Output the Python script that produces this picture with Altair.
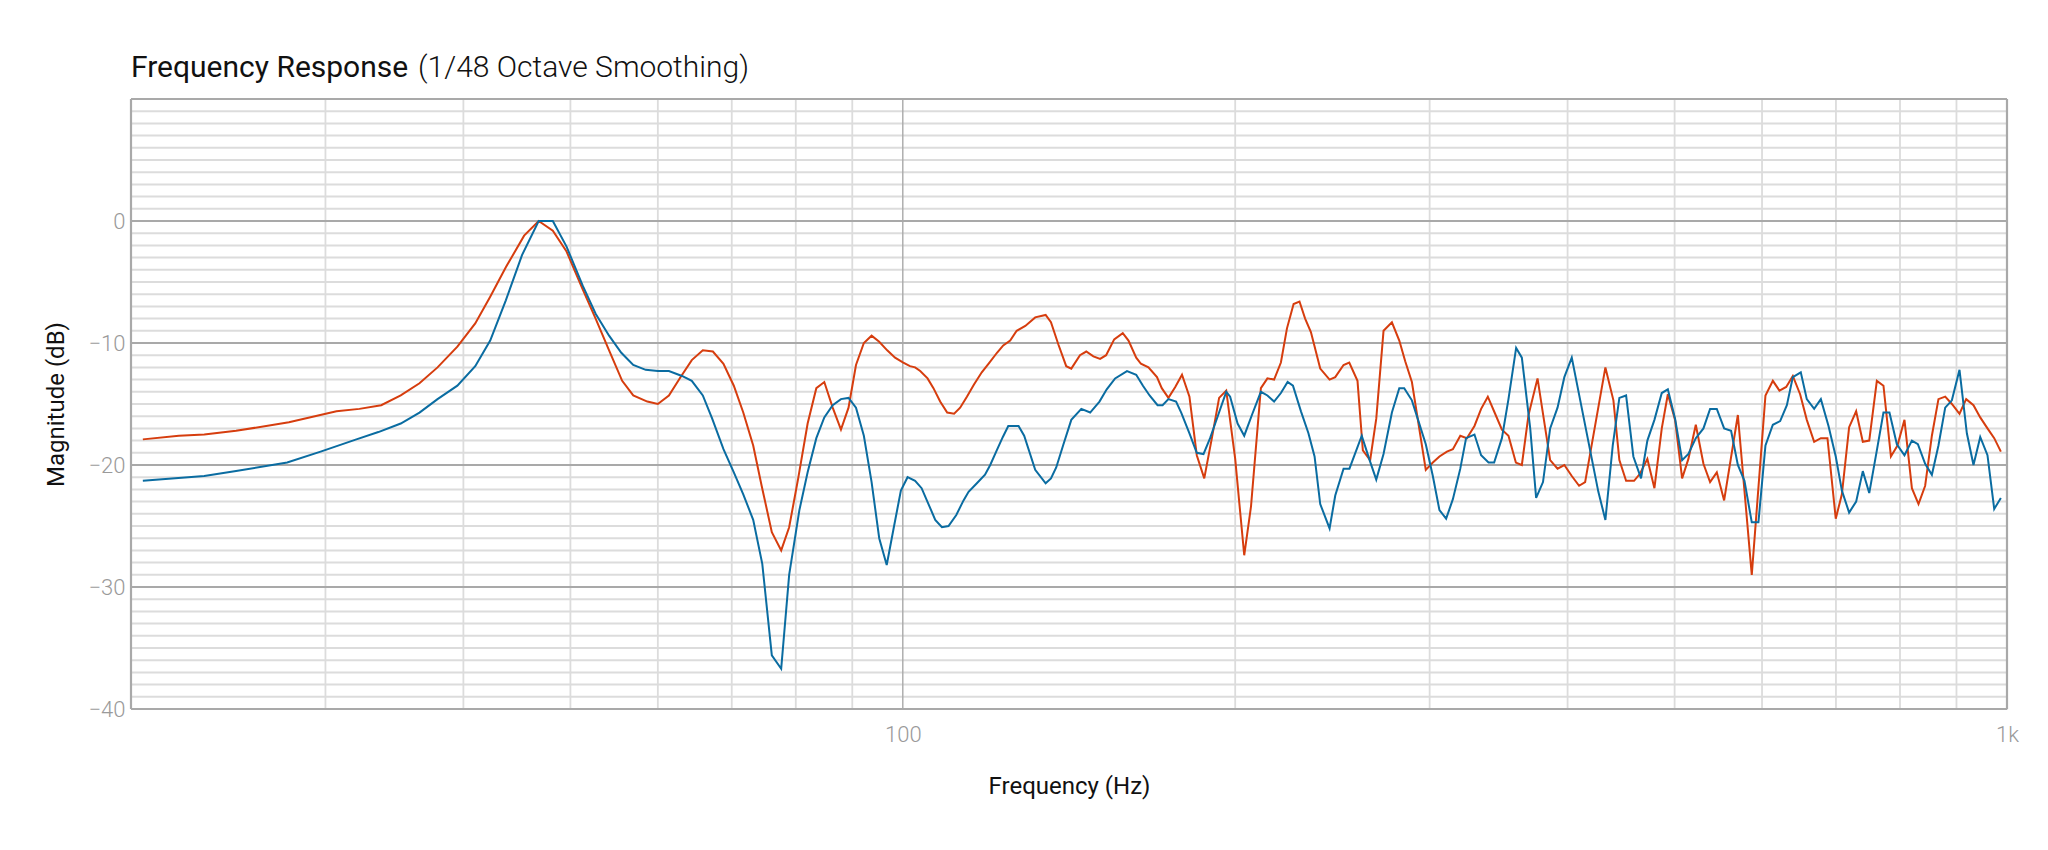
import altair as alt
import pandas as pd

# ---- data (frequency in Hz, magnitude in dB) ----
red_response = [
    (20.5, -17.9), (22.1, -17.6), (23.3, -17.5), (24.9, -17.2), (27.8, -16.5),
    (30.7, -15.6), (32.2, -15.4), (33.7, -15.1), (35.1, -14.3), (36.5, -13.3),
    (37.9, -12.0), (39.5, -10.3), (41.0, -8.4), (42.3, -6.2), (43.7, -3.8),
    (45.4, -1.2), (46.8, 0.0), (48.2, -0.8), (49.6, -2.5), (51.3, -5.6),
    (52.7, -8.0), (54.2, -10.6), (55.7, -13.1), (57.0, -14.3), (58.7, -14.8),
    (60.0, -15.0), (61.4, -14.3), (62.9, -12.8), (64.4, -11.4), (65.9, -10.6),
    (67.3, -10.7), (68.8, -11.7), (70.3, -13.5), (71.7, -15.7), (73.2, -18.4),
    (74.5, -21.7), (76.1, -25.5), (77.6, -27.0), (78.9, -25.1), (80.4, -21.1),
    (82.0, -16.6), (83.5, -13.7), (84.9, -13.2), (86.4, -15.3), (87.9, -17.1),
    (89.3, -15.3), (90.7, -11.8), (92.2, -10.0), (93.7, -9.4), (95.2, -9.9),
    (96.8, -10.6), (98.4, -11.2), (100.1, -11.6), (101.5, -11.9), (102.6, -12.0),
    (103.7, -12.3), (105.3, -12.9), (106.6, -13.7), (108.1, -14.8), (109.7, -15.7),
    (111.3, -15.8), (112.7, -15.3), (114.3, -14.4), (116.0, -13.4), (117.9, -12.4),
    (119.8, -11.6), (121.7, -10.8), (123.3, -10.2), (125.1, -9.8), (126.8, -9.0),
    (129.1, -8.6), (131.8, -7.9), (134.7, -7.7), (136.2, -8.3), (138.3, -10.1),
    (140.6, -11.9), (142.1, -12.1), (144.7, -11.0), (146.6, -10.7), (148.8, -11.1),
    (150.9, -11.3), (152.8, -11.0), (155.4, -9.7), (158.2, -9.2), (160.1, -9.8),
    (162.7, -11.2), (164.3, -11.7), (166.9, -12.0), (169.9, -12.8), (171.6, -13.7),
    (174.0, -14.5), (176.5, -13.6), (179.0, -12.6), (181.8, -14.4), (184.6, -19.2),
    (187.5, -21.1), (190.5, -17.8), (193.4, -14.5), (196.3, -13.9), (200.0, -19.5),
    (203.8, -27.4), (206.7, -23.4), (211.0, -13.7), (213.9, -12.9), (216.9, -13.0),
    (220.0, -11.6), (222.8, -8.8), (225.9, -6.8), (228.7, -6.6), (231.4, -8.0),
    (234.2, -9.1), (238.8, -12.1), (243.5, -13.0), (246.4, -12.8), (250.7, -11.8),
    (253.7, -11.6), (258.1, -13.1), (261.0, -18.8), (265.0, -19.6), (268.4, -16.2),
    (272.5, -9.0), (277.3, -8.3), (281.6, -9.8), (285.1, -11.5), (289.1, -13.2),
    (297.6, -20.4), (302.0, -19.8), (306.2, -19.3), (311.0, -18.9), (314.9, -18.7),
    (319.8, -17.6), (324.2, -17.8), (329.4, -16.8), (334.0, -15.4), (338.7, -14.4),
    (343.9, -15.8), (348.8, -17.1), (353.6, -17.6), (359.1, -19.8), (363.6, -20.0),
    (368.7, -15.9), (375.7, -12.9), (385.7, -19.6), (391.7, -20.3), (397.3, -20.0),
    (403.5, -20.9), (409.7, -21.7), (414.9, -21.4), (432.8, -12.0), (440.1, -14.7),
    (445.6, -19.6), (451.9, -21.3), (459.5, -21.3), (465.3, -20.7), (472.4, -19.5),
    (479.4, -21.9), (486.8, -17.0), (493.0, -14.2), (500.5, -16.3), (507.9, -21.1),
    (514.6, -19.5), (522.6, -16.7), (531.0, -19.9), (538.4, -21.4), (546.0, -20.6),
    (554.4, -22.9), (570.5, -15.9), (587.3, -29.0), (604.3, -14.3), (613.7, -13.1),
    (622.2, -13.9), (631.0, -13.6), (639.8, -12.7), (649.6, -14.2), (658.7, -16.3),
    (668.9, -18.1), (678.3, -17.8), (687.7, -17.8), (699.7, -24.4), (708.7, -22.4),
    (719.5, -16.9), (730.1, -15.6), (740.3, -18.1), (750.3, -18.0), (762.3, -13.1),
    (772.9, -13.5), (785.0, -19.3), (795.8, -18.4), (807.5, -16.3), (820.1, -21.9),
    (831.5, -23.2), (843.1, -21.7), (855.0, -17.6), (866.8, -14.6), (879.1, -14.4),
    (891.4, -15.0), (905.7, -15.8), (918.4, -14.6), (932.5, -15.1), (945.7, -16.1),
    (960.1, -17.0), (973.7, -17.8), (987.3, -18.9),
]

blue_response = [
    (20.5, -21.3), (23.3, -20.9), (24.9, -20.5), (27.7, -19.8), (29.7, -18.9),
    (32.0, -17.9), (33.5, -17.3), (35.1, -16.6), (36.5, -15.7), (37.9, -14.6),
    (39.5, -13.5), (41.0, -11.9), (42.3, -9.8), (43.7, -6.5), (45.2, -2.8),
    (46.8, 0.0), (48.2, 0.0), (49.6, -2.1), (51.3, -5.3), (52.7, -7.6),
    (54.2, -9.4), (55.6, -10.8), (57.0, -11.8), (58.5, -12.2), (60.0, -12.3),
    (61.4, -12.3), (63.1, -12.7), (64.4, -13.1), (65.9, -14.3), (67.2, -16.2),
    (68.8, -18.7), (70.3, -20.6), (71.7, -22.4), (73.2, -24.5), (74.6, -28.1),
    (76.1, -35.6), (77.6, -36.7), (78.9, -29.0), (80.6, -23.7), (82.0, -20.6),
    (83.5, -17.8), (84.9, -16.1), (86.4, -15.1), (87.9, -14.6), (89.3, -14.5),
    (90.7, -15.3), (92.2, -17.6), (93.7, -21.4), (95.2, -26.0), (96.7, -28.2),
    (98.1, -25.2), (99.6, -22.1), (101.0, -21.0), (102.6, -21.3), (104.0, -21.9),
    (105.5, -23.2), (107.0, -24.5), (108.5, -25.1), (110.0, -25.0), (111.8, -24.1),
    (113.5, -22.9), (114.7, -22.2), (116.7, -21.5), (118.7, -20.8), (120.0, -20.0),
    (121.5, -18.9), (123.2, -17.7), (124.6, -16.8), (127.3, -16.8), (128.8, -17.6),
    (131.8, -20.4), (134.7, -21.5), (136.2, -21.1), (137.7, -20.2), (139.8, -18.3),
    (142.1, -16.3), (145.1, -15.4), (147.8, -15.7), (150.7, -14.8), (153.0, -13.8),
    (155.7, -12.9), (159.6, -12.3), (162.7, -12.6), (165.0, -13.5), (167.3, -14.3),
    (170.1, -15.1), (171.9, -15.1), (174.0, -14.6), (176.8, -14.8), (178.7, -15.7),
    (181.8, -17.4), (184.6, -19.0), (187.2, -19.1), (189.8, -17.8), (193.2, -15.8),
    (196.3, -14.0), (197.9, -14.4), (201.0, -16.6), (203.8, -17.6), (207.3, -15.8),
    (211.0, -14.0), (213.9, -14.3), (216.9, -14.8), (220.0, -14.1), (223.1, -13.2),
    (225.6, -13.5), (229.4, -15.6), (233.0, -17.4), (236.0, -19.3), (238.8, -23.2),
    (243.5, -25.2), (246.4, -22.5), (250.7, -20.3), (253.8, -20.3), (260.4, -17.6),
    (264.7, -19.6), (268.4, -21.2), (272.5, -19.1), (277.3, -15.7), (281.6, -13.7),
    (284.5, -13.7), (289.1, -14.7), (293.1, -16.4), (297.6, -18.3), (302.0, -20.9),
    (306.2, -23.7), (310.5, -24.4), (314.9, -22.8), (319.8, -20.3), (323.7, -17.8),
    (329.4, -17.5), (334.0, -19.2), (339.2, -19.8), (343.2, -19.8), (348.8, -17.8),
    (353.6, -14.6), (359.3, -10.4), (363.6, -11.2), (370.0, -17.0), (374.6, -22.7),
    (380.0, -21.4), (385.7, -17.0), (391.7, -15.3), (397.3, -12.8), (403.5, -11.2),
    (426.5, -22.2), (432.8, -24.5), (439.5, -18.4), (445.6, -14.5), (451.9, -14.3),
    (458.8, -19.3), (466.2, -21.1), (472.4, -18.0), (479.4, -16.3), (486.8, -14.1),
    (493.0, -13.8), (500.5, -16.2), (507.9, -19.6), (514.6, -19.1), (522.6, -17.8),
    (531.0, -17.0), (538.4, -15.4), (546.0, -15.4), (554.4, -17.0), (562.5, -17.2),
    (570.5, -20.0), (578.4, -21.3), (587.3, -24.7), (595.5, -24.7), (604.3, -18.4),
    (613.7, -16.7), (623.1, -16.4), (631.9, -15.1), (639.8, -12.8), (650.5, -12.4),
    (658.7, -14.6), (668.9, -15.4), (678.3, -14.6), (689.2, -16.8), (699.7, -19.3),
    (708.7, -22.1), (719.5, -23.9), (730.1, -23.0), (740.3, -20.5), (750.3, -22.3),
    (762.3, -18.8), (772.9, -15.7), (782.6, -15.7), (794.8, -18.3), (807.5, -19.2),
    (820.1, -18.0), (830.4, -18.3), (843.1, -19.9), (855.0, -20.8), (866.8, -18.4),
    (879.1, -15.3), (891.4, -14.7), (905.7, -12.2), (919.7, -17.4), (932.5, -20.0),
    (945.7, -17.7), (960.1, -19.2), (973.7, -23.6), (987.3, -22.7),
]

# axis / grid values
x_domain = [20, 1000]
y_domain = [-40, 10]
x_tick_values = [100, 1000]
y_tick_values = [-40, -30, -20, -10, 0]
x_minor_grid = [30, 40, 50, 60, 70, 80, 90, 200, 300, 400, 500, 600, 700, 800, 900]
x_major_grid = [100]
y_major_grid = [-30, -20, -10, 0]
y_minor_grid = [v for v in range(-39, 10) if v % 10 != 0]
x_frame = [20, 1000]
y_frame = [-40, 10]

title_main = "Frequency Response"
title_detail = "(1/48 Octave Smoothing)"

RED = "#d63d0e"
BLUE = "#0a6ca1"
FONT = "Roboto"
FRAME_GRAY = "#a9a9a9"

red_df = pd.DataFrame(red_response, columns=["freq", "db"])
blue_df = pd.DataFrame(blue_response, columns=["freq", "db"])

xscale = alt.Scale(type="log", domain=x_domain, nice=False)
yscale = alt.Scale(domain=y_domain, nice=False, zero=False)

x_axis = alt.Axis(
    values=x_tick_values,
    labelExpr="datum.value >= 1000 ? '1k' : datum.label",
    title="Frequency (Hz)",
    grid=False, ticks=False, tickSize=0, domain=False,
    labelFont=FONT, labelFontSize=22, labelFontWeight=300, labelColor="#9a9a9a",
    labelPadding=15, labelFlush=False,
    titleFont=FONT, titleFontSize=24, titleFontWeight="normal", titleColor="#111111",
    titleBaseline="alphabetic", titleY=84,
)
y_axis = alt.Axis(
    values=y_tick_values,
    title="Magnitude (dB)",
    grid=False, ticks=False, tickSize=0, domain=False,
    labelFont=FONT, labelFontSize=22, labelFontWeight=300, labelColor="#9a9a9a",
    labelPadding=6,
    titleFont=FONT, titleFontSize=24, titleFontWeight="normal", titleColor="#111111",
    titleAngle=270, titleBaseline="alphabetic", titleAlign="center",
    titleX=-68, titleY=305,
)

X = alt.X("freq:Q", scale=xscale, axis=x_axis)
Y = alt.Y("db:Q", scale=yscale, axis=y_axis)

y_minor = alt.Chart(pd.DataFrame({"db": y_minor_grid})).mark_rule(
    color="#dcdcdc", strokeWidth=2
).encode(y=Y)

x_minor = alt.Chart(pd.DataFrame({"freq": x_minor_grid})).mark_rule(
    color="#dcdcdc", strokeWidth=1.8
).encode(x=X)

y_major = alt.Chart(pd.DataFrame({"db": y_major_grid})).mark_rule(
    color=FRAME_GRAY, strokeWidth=2
).encode(y=Y)

x_major = alt.Chart(pd.DataFrame({"freq": x_major_grid})).mark_rule(
    color=FRAME_GRAY, strokeWidth=1.4
).encode(x=X)

y_border = alt.Chart(pd.DataFrame({"db": y_frame})).mark_rule(
    color=FRAME_GRAY, strokeWidth=2.2
).encode(y=Y)

x_border = alt.Chart(pd.DataFrame({"freq": x_frame})).mark_rule(
    color=FRAME_GRAY, strokeWidth=2.2
).encode(x=X)

red_line = alt.Chart(red_df).mark_line(color=RED, strokeWidth=2).encode(
    x=X, y=Y, order="freq:Q",
)
blue_line = alt.Chart(blue_df).mark_line(color=BLUE, strokeWidth=2).encode(
    x=X, y=Y, order="freq:Q",
)

title_main_text = alt.Chart(pd.DataFrame({"t": [title_main]})).mark_text(
    align="left", baseline="alphabetic", font=FONT, fontSize=30, fontWeight="normal",
    color="#111111",
).encode(text="t:N", x=alt.value(0), y=alt.value(-22))

title_detail_text = alt.Chart(pd.DataFrame({"t": [title_detail]})).mark_text(
    align="left", baseline="alphabetic", font=FONT, fontSize=30, fontWeight=300,
    color="#111111",
).encode(text="t:N", x=alt.value(287), y=alt.value(-22))

chart = alt.layer(
    y_minor, x_minor, y_major, x_major, y_border, x_border, red_line, blue_line,
    title_main_text, title_detail_text,
).properties(
    width=1876,
    height=610,
    autosize=alt.AutoSizeParams(type="none"),
    padding={"left": 131, "top": 99, "right": 41, "bottom": 141},
).configure_view(
    stroke=None
).configure(background="white")

chart.save("out.html", embed_options={"renderer": "svg", "actions": False})
